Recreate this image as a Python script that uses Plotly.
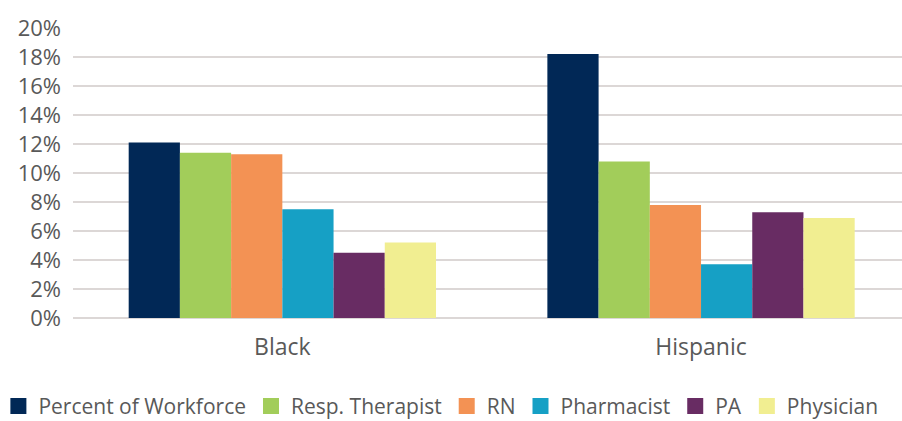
import plotly.graph_objects as go

groups = ["Black", "Hispanic"]
series = ["Percent of Workforce", "Resp. Therapist", "RN", "Pharmacist", "PA", "Physician"]
colors = ["#012856", "#a2cd5a", "#f39254", "#16a0c5", "#682c63", "#f1ee91"]

workforce = [12.1, 18.2]
resp_therapist = [11.4, 10.8]
rn = [11.3, 7.8]
pharmacist = [7.5, 3.7]
pa = [4.5, 7.3]
physician = [5.2, 6.9]

values = [workforce, resp_therapist, rn, pharmacist, pa, physician]

fig = go.Figure()
for name, vals, col in zip(series, values, colors):
  fig.add_trace(go.Bar(
    x=groups,
    y=vals,
    name=name,
    legendgroup=name,
    showlegend=False,
    marker={"color": col, "line": {"width": 0}},
  ))
  # legend-only square swatch (bigger than the default bar swatch)
  fig.add_trace(go.Scatter(
    x=[None],
    y=[None],
    mode="markers",
    name=name,
    legendgroup=name,
    marker={"color": col, "symbol": "square", "size": 16},
  ))

fig.update_layout({
  "width": 902,
  "height": 421,
  "margin": {"l": 73, "r": 0, "t": 28, "b": 103, "autoexpand": False},
  "paper_bgcolor": "white",
  "plot_bgcolor": "white",
  "barmode": "group",
  "bargap": 0.266,
  "bargroupgap": 0,
  "font": {"family": "Open Sans", "color": "#595959"},
  "xaxis": {
    "range": [-0.5, 1.48],
    "tickfont": {"size": 23},
    "showgrid": False,
    "ticks": "",
    "ticklabelstandoff": 13,
    "automargin": False,
  },
  "yaxis": {
    "range": [0, 20],
    "dtick": 2,
    "ticksuffix": "%",
    "tickfont": {"size": 22},
    "gridcolor": "#dcd7d6",
    "gridwidth": 1.5,
    "zeroline": True,
    "zerolinecolor": "#dcd7d6",
    "zerolinewidth": 1.5,
    "ticks": "",
    "ticklabelstandoff": 11,
    "automargin": False,
  },
  "legend": {
    "orientation": "h",
    "x": -0.09,
    "xanchor": "left",
    "y": -0.305,
    "yanchor": "middle",
    "font": {"size": 21},
    "itemwidth": 30,
    "traceorder": "normal",
  },
})

# the page's default body margin would shift the 902x421 figure; drop it
fig.write_html(
  "out.html",
  config={"displayModeBar": False},
  post_script="document.body.style.margin='0';document.body.style.overflow='hidden';",
)
